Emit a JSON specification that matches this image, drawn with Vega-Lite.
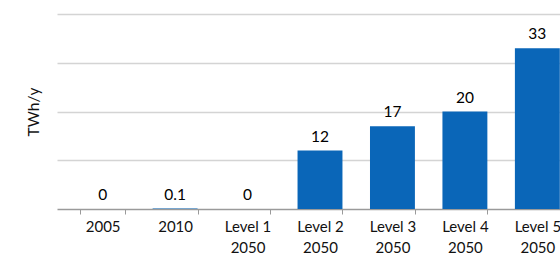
{
  "$schema": "https://vega.github.io/schema/vega-lite/v6.json",
  "autosize": "none",
  "padding": {"left": 57, "top": 14, "right": 0, "bottom": 47},
  "width": 526,
  "height": 195,
  "background": "white",
  "config": {
    "view": {"stroke": null},
    "font": "Lato"
  },
  "data": {
    "values": [
      {"category": "2005", "amount": 0, "txt": "0"},
      {"category": "2010", "amount": 0.1, "txt": "0.1"},
      {"category": "Level 1 2050", "amount": 0, "txt": "0"},
      {"category": "Level 2 2050", "amount": 12, "txt": "12"},
      {"category": "Level 3 2050", "amount": 17, "txt": "17"},
      {"category": "Level 4 2050", "amount": 20, "txt": "20"},
      {"category": "Level 5 2050", "amount": 33, "txt": "33"}
    ]
  },
  "encoding": {
    "x": {
      "field": "category",
      "type": "nominal",
      "sort": null,
      "scale": {"paddingInner": 0.38, "paddingOuter": 0.32},
      "axis": {
        "title": null,
        "labelAngle": 0,
        "labelFontSize": 15,
        "labelColor": "#111111",
        "labelPadding": 5,
        "labelLineHeight": 21,
        "labelExpr": "length(datum.label) > 4 ? [substring(datum.label, 0, 7), substring(datum.label, 8)] : datum.label",
        "tickBand": "extent",
        "tickSize": 5,
        "tickColor": "#9a9a9a",
        "domainColor": "#9a9a9a",
        "domainWidth": 1.5,
        "grid": false
      }
    },
    "y": {
      "field": "amount",
      "type": "quantitative",
      "scale": {"domain": [0, 40], "nice": false},
      "axis": {
        "title": "TWh/y",
        "titleFontSize": 15.5,
        "titleFontWeight": "normal",
        "titleColor": "#111111",
        "titleX": -24,
        "titleBaseline": "middle",
        "values": [10, 20, 30, 40],
        "labels": false,
        "ticks": false,
        "domain": false,
        "grid": true,
        "gridColor": "#d4d4d4",
        "gridWidth": 1.5
      }
    }
  },
  "layer": [
    {
      "mark": {"type": "bar", "color": "#0A66B8"}
    },
    {
      "mark": {"type": "text", "baseline": "bottom", "dy": -6, "fontSize": 15.5, "color": "#000000"},
      "encoding": {"text": {"field": "txt"}}
    }
  ]
}
